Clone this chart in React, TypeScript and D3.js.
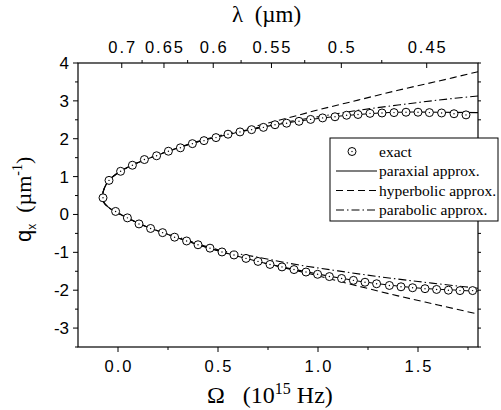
import React, { useEffect, useRef } from 'react';
import * as d3 from 'd3';

// Omega (1e15 Hz) vs q_x (1/um)
const exactUpper = [
  [-0.075, 0.44], [-0.045, 0.9], [0.013, 1.14], [0.072, 1.3], [0.132, 1.45], [0.193, 1.55],
  [0.252, 1.67], [0.312, 1.76], [0.372, 1.87], [0.43, 1.95], [0.49, 2.03], [0.55, 2.12],
  [0.61, 2.18], [0.668, 2.24], [0.727, 2.3], [0.785, 2.37], [0.843, 2.41], [0.905, 2.46],
  [0.963, 2.51], [1.023, 2.55], [1.085, 2.58], [1.143, 2.62], [1.2, 2.64], [1.26, 2.67],
  [1.32, 2.68], [1.38, 2.69], [1.44, 2.7], [1.5, 2.7], [1.557, 2.69], [1.618, 2.68],
  [1.68, 2.66], [1.74, 2.63]
];
const exactLower = [
  [-0.012, 0.08], [0.047, -0.09], [0.105, -0.25], [0.163, -0.37], [0.223, -0.48], [0.283, -0.6],
  [0.343, -0.7], [0.4, -0.8], [0.46, -0.89], [0.52, -0.99], [0.58, -1.07], [0.64, -1.16],
  [0.7, -1.24], [0.76, -1.32], [0.82, -1.385], [0.88, -1.455], [0.94, -1.52], [0.998, -1.58],
  [1.057, -1.64], [1.118, -1.69], [1.177, -1.74], [1.235, -1.79], [1.293, -1.83], [1.357, -1.875],
  [1.415, -1.91], [1.473, -1.935], [1.535, -1.96], [1.593, -1.98], [1.652, -2.0], [1.71, -2.01],
  [1.773, -2.01]
];

const paraxial = [
  [1.8, 2.69], [1.6, 2.7], [1.4, 2.7], [1.2, 2.64], [1.0, 2.535], [0.8, 2.38], [0.6, 2.17],
  [0.4, 1.92], [0.2, 1.57], [0.07, 1.3], [0.0, 1.1], [-0.045, 0.9], [-0.068, 0.7], [-0.077, 0.5],
  [-0.072, 0.33], [-0.05, 0.2], [-0.012, 0.07], [0.05, -0.1], [0.15, -0.34], [0.3, -0.62],
  [0.5, -0.96], [0.7, -1.24], [0.9, -1.47], [1.1, -1.67], [1.3, -1.83], [1.5, -1.94],
  [1.7, -2.0], [1.8, -2.02]
];
const hyperbolic = [
  [1.8, 3.77], [1.6, 3.52], [1.4, 3.28], [1.2, 3.02], [1.0, 2.76], [0.8, 2.48], [0.6, 2.21],
  [0.4, 1.93], [0.2, 1.58], [0.07, 1.3], [0.0, 1.1], [-0.045, 0.9], [-0.068, 0.7], [-0.077, 0.5],
  [-0.072, 0.33], [-0.05, 0.2], [-0.012, 0.07], [0.05, -0.1], [0.15, -0.34], [0.3, -0.62],
  [0.5, -0.96], [0.7, -1.24], [0.8, -1.37], [1.0, -1.62], [1.2, -1.89], [1.4, -2.15],
  [1.6, -2.39], [1.8, -2.63]
];
const parabolic = [
  [1.8, 3.13], [1.6, 3.02], [1.4, 2.89], [1.2, 2.75], [1.0, 2.58], [0.8, 2.4], [0.6, 2.18],
  [0.4, 1.92], [0.2, 1.57], [0.07, 1.3], [0.0, 1.1], [-0.045, 0.9], [-0.068, 0.7], [-0.077, 0.5],
  [-0.072, 0.33], [-0.05, 0.2], [-0.012, 0.07], [0.05, -0.1], [0.15, -0.34], [0.3, -0.6],
  [0.5, -0.93], [0.7, -1.13], [0.9, -1.33], [1.1, -1.49], [1.3, -1.64], [1.5, -1.77],
  [1.7, -1.89], [1.8, -1.95]
];

const omegaTicks = [0, 0.5, 1.0, 1.5];
const qTicks = [4, 3, 2, 1, 0, -1, -2, -3];
const lambdaTicks = [0.7, 0.65, 0.6, 0.55, 0.5, 0.45];
const lambdaMinor = [0.675, 0.625, 0.575, 0.525, 0.475];

const legendItems = ['exact', 'paraxial approx.', 'hyperbolic approx.', 'parabolic approx.'];

const App = () => {
  const ref = useRef(null);

  useEffect(() => {
    draw(ref.current);
  }, []);

  const draw = (element) => {
    d3.select(element).select('svg').remove();
    const svg = d3.select(element)
      .append('svg')
      .attr('width', 501)
      .attr('height', 410)
      .style('position', 'absolute')
      .style('left', 0)
      .style('top', 0)
      .style('background', '#fff');

    const L = 78, R = 478, T = 63, B = 347;
    const x = d3.scaleLinear().domain([-0.2, 1.8]).range([L, R]);
    const y = d3.scaleLinear().domain([-3.5, 4]).range([B, T]);
    // top axis is linear in 1/lambda
    const top = d3.scaleLinear().domain([1.3147, 2.3557]).range([L, R]);

    const sans = 'Liberation Sans, Arial, sans-serif';
    const serif = 'Liberation Serif, Times New Roman, serif';

    // curves
    const line = d3.line()
      .x((d) => x(d[0]))
      .y((d) => y(d[1]))
      .curve(d3.curveCatmullRom.alpha(0.5));

    const curves = [
      { data: paraxial, dash: null },
      { data: hyperbolic, dash: '7,4' },
      { data: parabolic, dash: '8,3,1.5,3' }
    ];
    curves.forEach((c) => {
      svg.append('path')
        .attr('d', line(c.data))
        .attr('fill', 'none')
        .attr('stroke', '#000')
        .attr('stroke-width', 1.1)
        .attr('stroke-dasharray', c.dash);
    });

    // exact points
    const pts = exactUpper.concat(exactLower);
    const g = svg.append('g');
    g.selectAll('circle.m')
      .data(pts)
      .enter()
      .append('circle')
      .attr('cx', (d) => x(d[0]))
      .attr('cy', (d) => y(d[1]))
      .attr('r', 4)
      .attr('fill', '#fff')
      .attr('stroke', '#000')
      .attr('stroke-width', 1);
    g.selectAll('circle.dot')
      .data(pts)
      .enter()
      .append('circle')
      .attr('cx', (d) => x(d[0]))
      .attr('cy', (d) => y(d[1]))
      .attr('r', 0.7)
      .attr('fill', '#000');

    // frame
    svg.append('rect')
      .attr('x', L).attr('y', T)
      .attr('width', R - L).attr('height', B - T)
      .attr('fill', 'none')
      .attr('stroke', '#000')
      .attr('stroke-width', 1.2);

    // bottom axis
    d3.range(-0.25, 1.8, 0.25).filter((v) => v >= -0.2).forEach((v) => {
      const major = Math.abs(v * 2 - Math.round(v * 2)) < 1e-6;
      svg.append('line')
        .attr('x1', x(v)).attr('x2', x(v))
        .attr('y1', B).attr('y2', B + (major ? 5 : 3))
        .attr('stroke', '#000');
    });
    omegaTicks.forEach((v) => {
      svg.append('text')
        .attr('x', x(v) + 1).attr('y', 372)
        .attr('text-anchor', 'middle')
        .attr('font-family', sans).attr('font-size', 16.5)
        .attr('letter-spacing', 2)
        .text(d3.format('.1f')(v));
    });
    const xt = svg.append('text')
      .attr('x', 207).attr('y', 403)
      .attr('font-family', serif).attr('font-size', 24)
      .style('white-space', 'pre');
    xt.append('tspan').text('Ω   (10');
    xt.append('tspan').attr('font-size', 16).attr('dy', -9).text('15');
    xt.append('tspan').attr('dy', 9).text(' Hz)');

    // left + right axis
    d3.range(-3.5, 4.01, 0.5).forEach((v) => {
      const major = Number.isInteger(v);
      svg.append('line')
        .attr('x1', L).attr('x2', L - (major ? 5 : 3))
        .attr('y1', y(v)).attr('y2', y(v))
        .attr('stroke', '#000');
      svg.append('line')
        .attr('x1', R).attr('x2', R + 3)
        .attr('y1', y(v)).attr('y2', y(v))
        .attr('stroke', '#000');
    });
    qTicks.forEach((v) => {
      svg.append('text')
        .attr('x', 69).attr('y', y(v) + 6)
        .attr('text-anchor', 'end')
        .attr('font-family', sans).attr('font-size', 17)
        .text(v);
    });
    const yt = svg.append('text')
      .attr('transform', 'translate(31,242) rotate(-90)')
      .attr('font-family', serif).attr('font-size', 22)
      .style('white-space', 'pre');
    yt.append('tspan').attr('font-family', sans).text('q');
    yt.append('tspan').attr('font-family', sans).attr('font-size', 12).attr('dy', 5).text('x');
    yt.append('tspan').attr('dy', -5).text('  (µm');
    yt.append('tspan').attr('font-size', 14).attr('dy', -9).text('-1');
    yt.append('tspan').attr('dy', 9).text(')');

    // top axis (wavelength)
    lambdaTicks.forEach((l) => {
      svg.append('line')
        .attr('x1', top(1 / l)).attr('x2', top(1 / l))
        .attr('y1', T).attr('y2', T + 5)
        .attr('stroke', '#000');
      svg.append('text')
        .attr('x', top(1 / l) + 1).attr('y', 53)
        .attr('text-anchor', 'middle')
        .attr('font-family', sans).attr('font-size', 16.5)
        .attr('letter-spacing', 2)
        .text(l);
    });
    lambdaMinor.forEach((l) => {
      svg.append('line')
        .attr('x1', top(1 / l)).attr('x2', top(1 / l))
        .attr('y1', T).attr('y2', T - 3)
        .attr('stroke', '#000');
    });
    const tt = svg.append('text')
      .attr('x', 232).attr('y', 22)
      .attr('font-family', serif).attr('font-size', 23)
      .style('white-space', 'pre');
    tt.text('λ  (µm)');

    // legend
    const lg = svg.append('g');
    lg.append('rect')
      .attr('x', 330).attr('y', 138)
      .attr('width', 168).attr('height', 83)
      .attr('fill', '#fff')
      .attr('stroke', '#000')
      .attr('stroke-width', 1);
    legendItems.forEach((name, i) => {
      const cy = 151.5 + i * 19.5;
      if (i === 0) {
        lg.append('circle').attr('cx', 352).attr('cy', cy).attr('r', 4)
          .attr('fill', '#fff').attr('stroke', '#000');
        lg.append('circle').attr('cx', 352).attr('cy', cy).attr('r', 0.7).attr('fill', '#000');
      } else {
        lg.append('line')
          .attr('x1', 336).attr('x2', 377)
          .attr('y1', cy).attr('y2', cy)
          .attr('stroke', '#000').attr('stroke-width', 1.1)
          .attr('stroke-dasharray', curves[i - 1].dash);
      }
      lg.append('text')
        .attr('x', 379).attr('y', cy + 5)
        .attr('font-family', serif).attr('font-size', 15.5)
        .text(name);
    });
  };

  return <div ref={ref}></div>;
};

export default App;
